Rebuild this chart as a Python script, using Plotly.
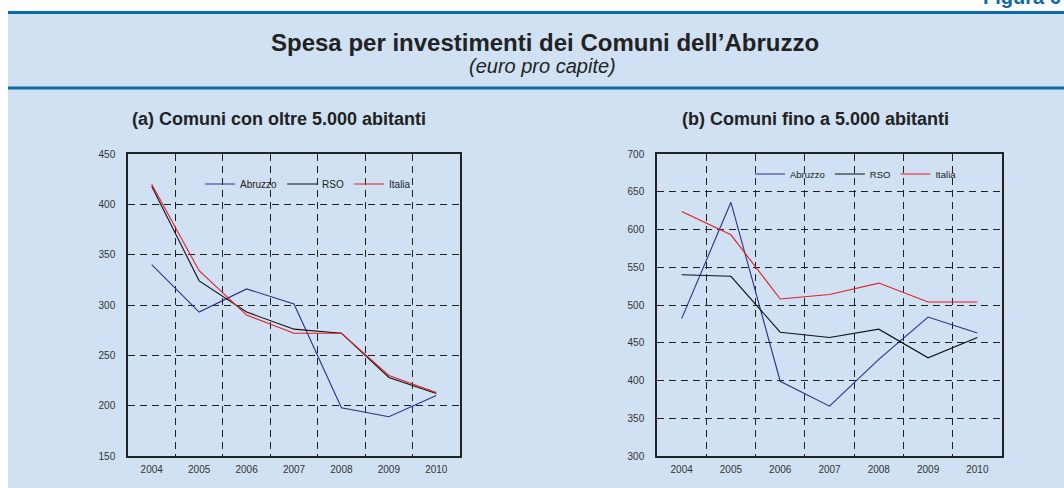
import plotly.graph_objects as go

years = ["2004", "2005", "2006", "2007", "2008", "2009", "2010"]

# (a) Comuni con oltre 5.000 abitanti
a_abruzzo = [340, 293, 316, 301, 198, 189, 210]
a_rso = [418, 324, 293, 276, 272, 228, 212]
a_italia = [420, 334, 290, 272, 272, 230, 213]

# (b) Comuni fino a 5.000 abitanti
b_abruzzo = [482, 636, 399, 366, 428, 484, 463]
b_rso = [540, 538, 464, 457, 468, 430, 457]
b_italia = [624, 593, 508, 514, 529, 504, 504]

series_names = ["Abruzzo", "RSO", "Italia"]
colors = ["#2b2f93", "#111111", "#e41e26"]

W, H = 1064, 488
FONT = "Liberation Sans, Arial, sans-serif"

fig = go.Figure()

for vals, name, col in zip([a_abruzzo, a_rso, a_italia], series_names, colors):
    fig.add_trace(go.Scatter(x=years, y=vals, mode="lines", name=name,
                             line=dict(color=col, width=1.1),
                             xaxis="x", yaxis="y", legend="legend"))
for vals, name, col in zip([b_abruzzo, b_rso, b_italia], series_names, colors):
    fig.add_trace(go.Scatter(x=years, y=vals, mode="lines", name=name,
                             line=dict(color=col, width=1.1),
                             xaxis="x2", yaxis="y2", legend="legend2"))

def px_x(p):
    return p / W

def px_y(p):
    return 1 - p / H

axis_common = dict(showline=True, linecolor="#222222", linewidth=1.5, mirror=True,
                   showgrid=True, gridcolor="#222222", gridwidth=1, griddash="7px,5px",
                   tickfont=dict(family=FONT, size=10, color="#333333"),
                   zeroline=False, fixedrange=True, automargin=False)

xa = dict(axis_common, type="category", tickson="boundaries", ticks="",
          ticklabelstandoff=3, range=[-0.5, len(years) - 0.5])
ya_common = dict(axis_common, ticks="", ticklabelstandoff=9, dtick=50)

fig.update_layout(
    template="none",
    width=W, height=H,
    margin=dict(l=0, r=0, t=0, b=0, pad=0, autoexpand=False),
    paper_bgcolor="white",
    plot_bgcolor="white",
    showlegend=True,
    font=dict(family=FONT, color="#222222"),
    xaxis=dict(xa, domain=[px_x(128), px_x(460)], anchor="y"),
    yaxis=dict(ya_common, domain=[px_y(456), px_y(154)], range=[150, 450], anchor="x"),
    xaxis2=dict(xa, domain=[px_x(657), px_x(1002)], anchor="y2"),
    yaxis2=dict(ya_common, domain=[px_y(456), px_y(154)], range=[300, 700], anchor="x2"),
    legend=dict(orientation="h", x=px_x(200), y=px_y(184), xanchor="left", yanchor="middle",
                bgcolor="rgba(0,0,0,0)", borderwidth=0,
                font=dict(family=FONT, size=10, color="#222222")),
    legend2=dict(orientation="h", x=px_x(750), y=px_y(174), xanchor="left", yanchor="middle",
                 bgcolor="rgba(0,0,0,0)", borderwidth=0,
                 font=dict(family=FONT, size=9.5, color="#222222")),
    shapes=[
        dict(type="rect", xref="paper", yref="paper", x0=px_x(8), x1=1, y0=0, y1=px_y(12),
             fillcolor="#cfe1f2", line=dict(width=0), layer="below"),
        dict(type="line", xref="paper", yref="paper", x0=px_x(8), x1=1, y0=px_y(12.5), y1=px_y(12.5),
             line=dict(color="#0a6aaa", width=3)),
        dict(type="line", xref="paper", yref="paper", x0=px_x(8), x1=1, y0=px_y(88), y1=px_y(88),
             line=dict(color="#0a6aaa", width=3)),
    ],
    annotations=[
        dict(text="<b>Spesa per investimenti dei Comuni dell’Abruzzo</b>", xref="paper", yref="paper",
             x=px_x(545), y=px_y(42), xanchor="center", yanchor="middle", showarrow=False,
             font=dict(family=FONT, size=24, color="#222222")),
        dict(text="<i>(euro pro capite)</i>", xref="paper", yref="paper",
             x=px_x(542), y=px_y(66), xanchor="center", yanchor="middle", showarrow=False,
             font=dict(family=FONT, size=20, color="#222222")),
        dict(text="<b>(a) Comuni con oltre 5.000 abitanti</b>", xref="paper", yref="paper",
             x=px_x(279), y=px_y(119), xanchor="center", yanchor="middle", showarrow=False,
             font=dict(family=FONT, size=18, color="#222222")),
        dict(text="<b>(b) Comuni fino a 5.000 abitanti</b>", xref="paper", yref="paper",
             x=px_x(815), y=px_y(119), xanchor="center", yanchor="middle", showarrow=False,
             font=dict(family=FONT, size=18, color="#222222")),
        dict(text="<b>Figura 6</b>", xref="paper", yref="paper",
             x=px_x(981), y=px_y(10), xanchor="left", yanchor="bottom", showarrow=False,
             font=dict(family=FONT, size=20, color="#0a6aaa")),
    ],
)

fig.write_html("out.html", config={"displayModeBar": False},
               post_script="document.body.style.margin='0';")
